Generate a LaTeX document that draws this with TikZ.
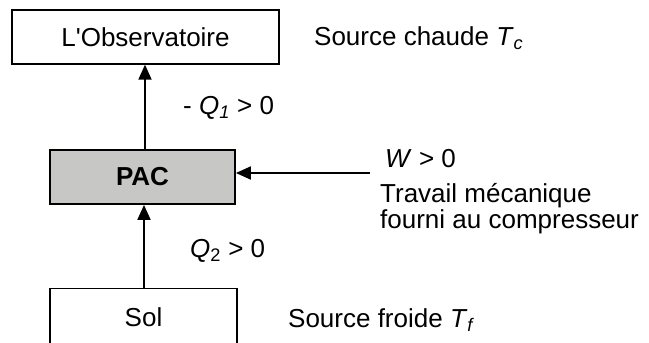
\documentclass[tikz,border=0pt]{standalone}
\usepackage{fontspec}
\setmainfont{Liberation Sans}[Ligatures=TeXOff]
\usetikzlibrary{arrows.meta}
\definecolor{pacgray}{RGB}{199,199,197}
\tikzset{
  box/.style={draw=black, line width=1.3pt, minimum width=#1, minimum height=54pt, inner sep=0pt, font=\fontsize{26}{30}\selectfont},
  lbl/.style={inner sep=0pt, anchor=west, font=\fontsize{26}{26}\selectfont},
  flow/.style={line width=1.9pt, -{Triangle[length=15pt,width=13pt]}}
}
\begin{document}
\begin{tikzpicture}[x=1pt,y=-1pt]
\useasboundingbox (0,0) rectangle (649,343);
\node[box=267pt] (obs) at (145.5,37) {L'Observatoire};
\node[box=185pt, fill=pacgray, line width=1.8pt] (pac) at (142.5,177) {\textbf{PAC}};
\node[box=187pt, minimum height=70pt, anchor=north] (sol) at (143.5,288) {};
\node[inner sep=0pt, font=\fontsize{26}{30}\selectfont] (soltxt) at (143.5,317) {Sol};
\coordinate (w) at (370,173);
\node[lbl] (tc) at (314,38) {Source chaude \textit{T}\textsubscript{\textit{c}}};
\node[lbl] (q1) at (183,108) {- \textit{Q}\textsubscript{\textit{1}} > 0};
\node[lbl] (wl) at (385,159) {\textit{W} > 0};
\node[lbl, align=left] (trav) at (380,209) {Travail mécanique\\fourni au compresseur};
\node[lbl] (q2) at (190,251) {\textit{Q}\textsubscript{2} > 0};
\node[lbl] (tf) at (288,320) {Source froide \textit{T}\textsubscript{\textit{f}}};
\draw[flow] (pac.north -| 145,0) -- (obs.south -| 145,0);
\draw[flow] (sol.north -| 144,0) -- (pac.south -| 144,0);
\draw[flow] (w) -- (w -| pac.east);
\end{tikzpicture}
\end{document}
